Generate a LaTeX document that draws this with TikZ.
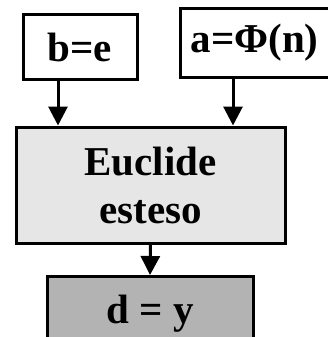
\documentclass[tikz,border=0pt]{standalone}
\usepackage{fontspec}
\setmainfont{Liberation Serif}
\usetikzlibrary{arrows.meta}
\definecolor{lightbox}{RGB}{230,230,230}
\definecolor{darkbox}{RGB}{179,179,179}
\begin{document}
\begin{tikzpicture}[x=1pt,y=-1pt,
  box/.style={draw=black,line width=3pt,inner sep=0pt,font=\fontsize{41}{48}\selectfont\bfseries,align=center},
  arr/.style={line width=3pt,-{Triangle[width=19pt,length=19pt]}}]
\useasboundingbox (0,0) rectangle (327,337);
\node[box,fill=white,minimum width=114pt,minimum height=65pt] (b) at (80,47) {b=e};
\node[box,fill=white,minimum width=149pt,minimum height=68pt] (a) at (254.5,43) {a=Φ(n)};
\node[box,fill=lightbox,minimum width=269pt,minimum height=116pt] (e) at (150.5,185) {Euclide\\esteso};
\node[box,fill=darkbox,minimum width=206pt,minimum height=75pt,anchor=north] (d) at (150,275) {d = y};
\draw[arr] ([xshift=-22pt]b.south) -- ([xshift=-22pt]b.south |- e.north);
\draw[arr] ([xshift=-21.5pt]a.south) -- ([xshift=-21.5pt]a.south |- e.north);
\draw[arr] (e.south) -- (d.north);
\end{tikzpicture}
\end{document}
